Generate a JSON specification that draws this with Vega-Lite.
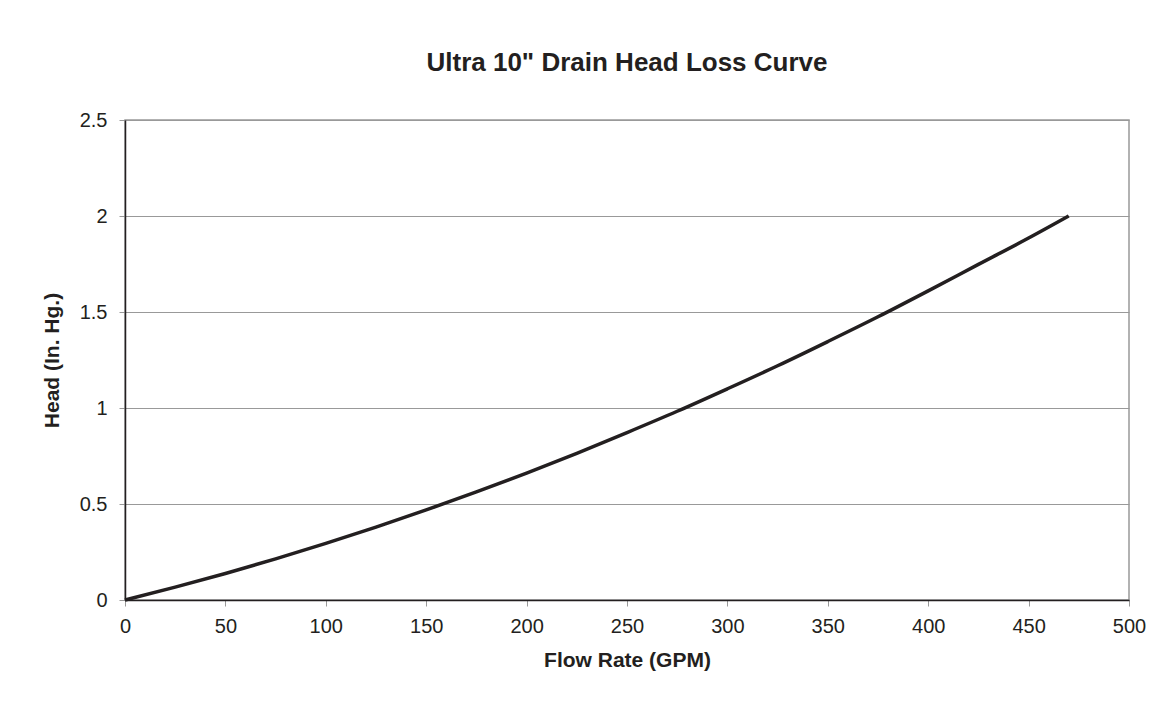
{
  "$schema": "https://vega.github.io/schema/vega-lite/v6.json",
  "autosize": "none",
  "width": 1004,
  "height": 480,
  "padding": {"left": 125, "top": 120, "right": 42, "bottom": 111},
  "background": "white",
  "config": {
    "font": "Liberation Sans",
    "view": {"stroke": "#999999", "strokeWidth": 1.5},
    "axis": {
      "labelFont": "Liberation Sans",
      "titleFont": "Liberation Sans",
      "labelFontSize": 20,
      "titleFontSize": 21,
      "labelColor": "#231f20",
      "titleColor": "#231f20",
      "titleFontWeight": "bold",
      "domainColor": "#231f20",
      "domainWidth": 1.5,
      "tickColor": "#999999",
      "tickSize": 6,
      "gridColor": "#999999",
      "gridWidth": 1
    }
  },
  "title": {
    "text": "Ultra 10\" Drain Head Loss Curve",
    "font": "Liberation Sans",
    "fontSize": 26,
    "fontWeight": "bold",
    "color": "#231f20",
    "anchor": "middle",
    "offset": 34
  },
  "data": {
    "values": [
      {"flow": 0, "head": 0},
      {"flow": 25, "head": 0.067},
      {"flow": 50, "head": 0.138},
      {"flow": 75, "head": 0.214},
      {"flow": 100, "head": 0.295},
      {"flow": 125, "head": 0.38},
      {"flow": 150, "head": 0.469},
      {"flow": 175, "head": 0.563},
      {"flow": 200, "head": 0.661},
      {"flow": 225, "head": 0.764},
      {"flow": 250, "head": 0.872},
      {"flow": 275, "head": 0.983},
      {"flow": 300, "head": 1.1},
      {"flow": 325, "head": 1.22},
      {"flow": 350, "head": 1.346},
      {"flow": 375, "head": 1.475},
      {"flow": 400, "head": 1.61},
      {"flow": 425, "head": 1.748},
      {"flow": 450, "head": 1.885},
      {"flow": 470, "head": 2.0}
    ]
  },
  "mark": {"type": "line", "color": "#231f20", "strokeWidth": 3.5, "interpolate": "monotone"},
  "encoding": {
    "x": {
      "field": "flow",
      "type": "quantitative",
      "title": "Flow Rate (GPM)",
      "scale": {"domain": [0, 500], "nice": false, "zero": true},
      "axis": {"values": [0, 50, 100, 150, 200, 250, 300, 350, 400, 450, 500], "format": "d", "grid": false, "labelPadding": 10, "titlePadding": 13, "labelFlush": false}
    },
    "y": {
      "field": "head",
      "type": "quantitative",
      "title": "Head (In. Hg.)",
      "scale": {"domain": [0, 2.5], "nice": false},
      "axis": {"values": [0, 0.5, 1, 1.5, 2, 2.5], "format": "~g", "grid": true, "labelPadding": 12, "titlePadding": 17, "labelFlush": false}
    }
  }
}
